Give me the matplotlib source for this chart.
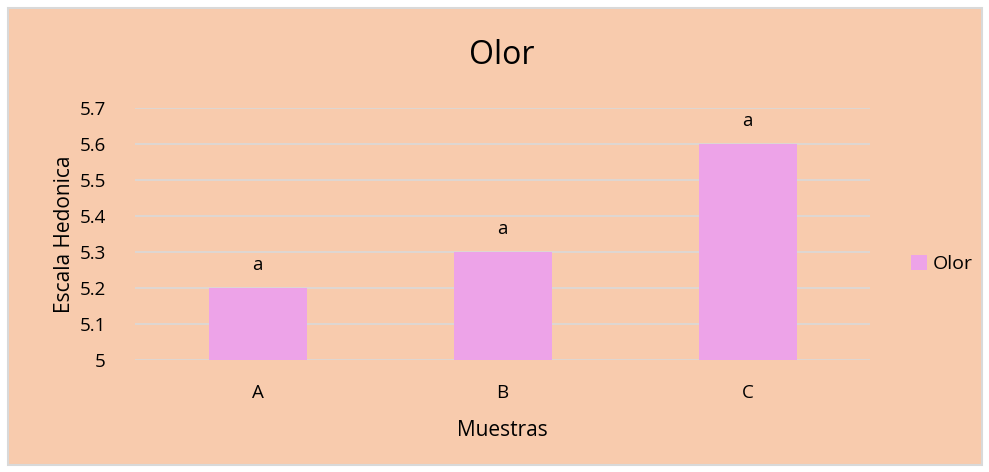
import matplotlib.pyplot as plt
from matplotlib.patches import Rectangle

muestras = ["A", "B", "C"]
olor = [5.2, 5.3, 5.6]
letras = ["a", "a", "a"]
yticks = [5.0, 5.1, 5.2, 5.3, 5.4, 5.5, 5.6, 5.7]
ytick_labels = ["5", "5.1", "5.2", "5.3", "5.4", "5.5", "5.6", "5.7"]

plt.rcParams['font.family'] = ['Open Sans', 'DejaVu Sans']

fondo = "#F8CBAD"
rosa = "#EDA3E8"

fig = plt.figure(figsize=(9.89, 4.72), dpi=100)
fig.patch.set_facecolor("white")
fig.patches.append(Rectangle((8/989, 7/472), 974/989, 457/472, transform=fig.transFigure,
                             facecolor=fondo, edgecolor="#D9D9D9", linewidth=1.5, zorder=-5))

ax = fig.add_axes([135/989, 1 - 360/472, 735/989, 252/472])
ax.set_zorder(2)
ax.set_facecolor("none")
x = range(len(muestras))
bars = ax.bar(x, [v - 5 for v in olor], bottom=5, width=0.4, color=rosa, label="Olor", zorder=2)
for i, (v, t) in enumerate(zip(olor, letras)):
    ax.text(i, v + 0.04, t, ha="center", va="bottom", fontsize=13.5)

ax.set_xlim(-0.5, 2.5)
ax.set_ylim(5, 5.7)
ax.set_yticks(yticks)
ax.set_yticklabels(ytick_labels, fontsize=13.5)
ax.set_xticks(list(x))
ax.set_xticklabels(muestras, fontsize=13.5)
ax.yaxis.grid(True, color="#D9D9D9", linewidth=1.2, zorder=0)
ax.tick_params(length=0)
ax.tick_params(axis="y", pad=21)
ax.tick_params(axis="x", pad=17)
for s in ax.spines.values():
    s.set_visible(False)

ax.set_xlabel("Muestras", fontsize=15, labelpad=13)
ax.set_ylabel("Escala Hedonica", fontsize=15, labelpad=3)
fig.text(502/989, 1 - 55/472, "Olor", ha="center", va="center", fontsize=23)

ax.legend(loc="center left", bbox_to_anchor=(1 + 41/735, 0.38), frameon=False, fontsize=14,
          handlelength=0.8, handleheight=0.8, handletextpad=0.3, borderaxespad=0, borderpad=0)

fig.savefig("out.png", dpi=100, facecolor=fig.get_facecolor())
